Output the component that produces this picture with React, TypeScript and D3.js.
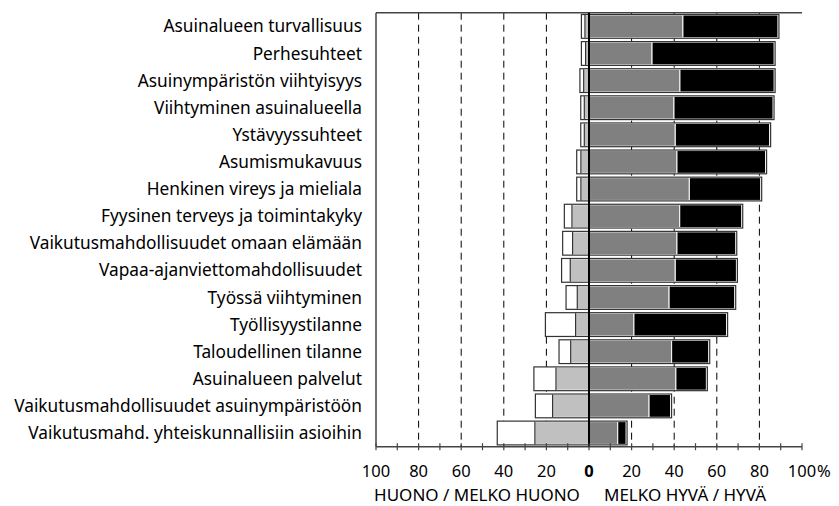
import * as d3 from 'd3'
import React from 'react'

const categories = [
  'Asuinalueen turvallisuus',
  'Perhesuhteet',
  'Asuinympäristön viihtyisyys',
  'Viihtyminen asuinalueella',
  'Ystävyyssuhteet',
  'Asumismukavuus',
  'Henkinen vireys ja mieliala',
  'Fyysinen terveys ja toimintakyky',
  'Vaikutusmahdollisuudet omaan elämään',
  'Vapaa-ajanviettomahdollisuudet',
  'Työssä viihtyminen',
  'Työllisyystilanne',
  'Taloudellinen tilanne',
  'Asuinalueen palvelut',
  'Vaikutusmahdollisuudet asuinympäristöön',
  'Vaikutusmahd. yhteiskunnallisiin asioihin',
]

// left side (%)
const huono = [1.2, 1.5, 1.3, 1.2, 1.2, 1.5, 1.5, 3.1, 4.2, 3.6, 4.8, 13.7, 5.0, 9.9, 7.6, 17.2]
const melkoHuono = [1.9, 1.6, 2.5, 2.2, 2.2, 3.8, 3.8, 8.0, 7.7, 8.8, 5.5, 6.3, 8.6, 15.5, 17.1, 25.4]
// right side (%)
const melkoHyva = [44.1, 29.6, 42.7, 39.9, 40.5, 41.3, 47.1, 42.6, 41.3, 40.5, 37.6, 21.1, 38.8, 40.8, 28.2, 13.5]
const hyva = [44.6, 57.3, 44.2, 46.5, 44.3, 41.6, 33.5, 29.1, 27.6, 28.7, 30.8, 43.5, 17.4, 14.3, 10.1, 3.9]

const tickValues = [-100, -80, -60, -40, -20, 0, 20, 40, 60, 80, 100]
const gridValues = [-80, -60, -40, -20, 20, 40, 60, 80]
const leftTitle = 'HUONO / MELKO HUONO'
const rightTitle = 'MELKO HYVÄ / HYVÄ'

const W = 839
const H = 506
const font = '"Noto Sans", sans-serif'

export default function App() {
  const top = 12.7
  const bottom = 446.7
  const x = d3.scaleLinear().domain([-100, 100]).range([376, 802])
  const y = d3.scaleBand<string>().domain(categories).range([top, bottom]).paddingInner(0.16).paddingOuter(0.085)
  const bh = y.bandwidth()
  const minorTicks = d3.range(-100, 101, 10)

  return (
    <svg width={W} height={H} style={{ position: 'absolute', left: 0, top: 0 }}>
      <rect width={W} height={H} fill='#fff' />
      {/* dashed grid */}
      {gridValues.map((v) => (
        <line key={`g${v}`} x1={x(v)} x2={x(v)} y1={top} y2={bottom} stroke='#000' strokeWidth={1} strokeDasharray='7,5' />
      ))}
      {/* bars */}
      {categories.map((c, i) => {
        const y0 = y(c) || 0
        const lh = melkoHuono[i]
        const wh = huono[i]
        const mg = melkoHyva[i]
        const bk = hyva[i]
        return (
          <g key={c}>
            <rect x={x(-lh - wh)} y={y0} width={x(wh) - x(0)} height={bh} fill='#fff' stroke='#fff' />
            <rect x={x(-lh)} y={y0} width={x(lh) - x(0)} height={bh} fill='#c0c0c0' stroke='#fff' />
            <rect x={x(0)} y={y0} width={x(mg) - x(0)} height={bh} fill='#808080' stroke='#fff' />
            <rect x={x(mg)} y={y0} width={x(mg + bk) - x(mg)} height={bh} fill='#000' stroke='#fff' />
            <line x1={x(-lh)} x2={x(-lh)} y1={y0} y2={y0 + bh} stroke='#333' strokeWidth={1.2} />
            <rect x={x(-lh - wh) - 1} y={y0 - 0.5} width={x(0) - x(-lh - wh) + 1} height={bh + 1} fill='none' stroke='#333' strokeWidth={1.2} />
            <rect x={x(0)} y={y0 - 0.5} width={x(mg + bk) - x(0) + 1} height={bh + 1} fill='none' stroke='#333' strokeWidth={1.2} />
            <text x={362} y={y0 + bh / 2} dy='0.35em' textAnchor='end' fontFamily={font} fontSize={17.3} fill='#000'>
              {c}
            </text>
          </g>
        )
      })}
      {/* frame */}
      <line x1={376} x2={802} y1={top} y2={top} stroke='#444' strokeWidth={1.5} />
      <line x1={376} x2={376} y1={top} y2={bottom} stroke='#444' strokeWidth={1.5} />
      <line x1={376} x2={802} y1={bottom} y2={bottom} stroke='#444' strokeWidth={1.5} />
      <line x1={x(0)} x2={x(0)} y1={top} y2={bottom} stroke='#000' strokeWidth={2} />
      {minorTicks.map((v) => (
        <line key={`t${v}`} x1={x(v)} x2={x(v)} y1={bottom - 3.5} y2={bottom + 3.5} stroke='#444' strokeWidth={1.2} />
      ))}
      {tickValues.map((v) => (
        <text
          key={`l${v}`}
          x={x(v)}
          y={477}
          textAnchor='middle'
          fontFamily={font}
          fontSize={16.5}
          fontWeight={v === 0 ? 'bold' : 'normal'}
          fill='#000'
        >
          {Math.abs(v)}
        </text>
      ))}
      <text x={817} y={477} fontFamily={font} fontSize={16.5} fill='#000'>
        %
      </text>
      <text x={477} y={501} textAnchor='middle' fontFamily={font} fontSize={17} fill='#000'>
        {leftTitle}
      </text>
      <text x={685} y={501} textAnchor='middle' fontFamily={font} fontSize={17} fill='#000'>
        {rightTitle}
      </text>
    </svg>
  )
}
